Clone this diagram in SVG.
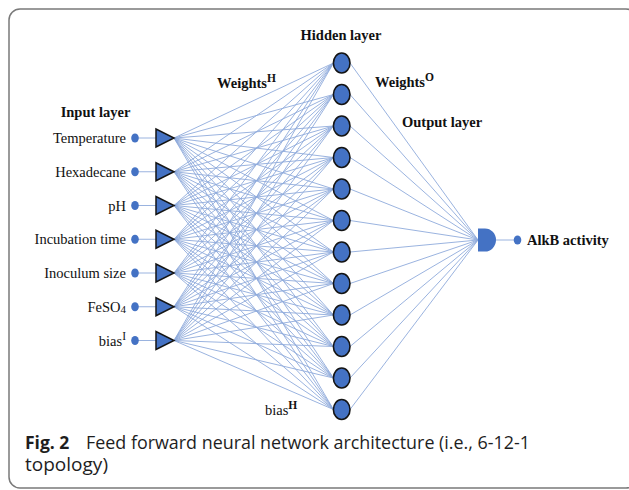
<svg xmlns="http://www.w3.org/2000/svg" width="629" height="490" viewBox="0 0 629 490">
<style>
.lbl{font-family:"Liberation Serif","Times New Roman",serif;font-size:14.5px;fill:#111}
.b{font-weight:bold}
.sup{font-size:11.5px}
.cn line{stroke:#8eaadb;stroke-width:0.9}
.hn{fill:#4472c4;stroke:#141414;stroke-width:1.6}
.tri{fill:#4472c4;stroke:#141414;stroke-width:1.5}
.dot{fill:#4472c4}
.stub{stroke:#4472c4;stroke-width:1.2}
.cap{font-family:"Open Sans","Noto Sans",sans-serif;font-size:17.5px;fill:#1e1e1e}
</style>
<rect x="9" y="9" width="628" height="479" rx="11" fill="#fff" stroke="#7a7a7a" stroke-width="1.5"/>

<g id="connectors" class="cn">
<g id="ih">
<line x1="174" y1="138" x2="333.5" y2="63"/><line x1="174" y1="138" x2="333.5" y2="94.5"/><line x1="174" y1="138" x2="333.5" y2="126"/><line x1="174" y1="138" x2="333.5" y2="157.5"/><line x1="174" y1="138" x2="333.5" y2="189"/><line x1="174" y1="138" x2="333.5" y2="220.5"/><line x1="174" y1="138" x2="333.5" y2="252"/><line x1="174" y1="138" x2="333.5" y2="283.5"/><line x1="174" y1="138" x2="333.5" y2="315"/><line x1="174" y1="138" x2="333.5" y2="346.5"/><line x1="174" y1="138" x2="333.5" y2="378"/><line x1="174" y1="138" x2="333.5" y2="409.5"/>
<line x1="174" y1="171.75" x2="333.5" y2="63"/><line x1="174" y1="171.75" x2="333.5" y2="94.5"/><line x1="174" y1="171.75" x2="333.5" y2="126"/><line x1="174" y1="171.75" x2="333.5" y2="157.5"/><line x1="174" y1="171.75" x2="333.5" y2="189"/><line x1="174" y1="171.75" x2="333.5" y2="220.5"/><line x1="174" y1="171.75" x2="333.5" y2="252"/><line x1="174" y1="171.75" x2="333.5" y2="283.5"/><line x1="174" y1="171.75" x2="333.5" y2="315"/><line x1="174" y1="171.75" x2="333.5" y2="346.5"/><line x1="174" y1="171.75" x2="333.5" y2="378"/><line x1="174" y1="171.75" x2="333.5" y2="409.5"/>
<line x1="174" y1="205.5" x2="333.5" y2="63"/><line x1="174" y1="205.5" x2="333.5" y2="94.5"/><line x1="174" y1="205.5" x2="333.5" y2="126"/><line x1="174" y1="205.5" x2="333.5" y2="157.5"/><line x1="174" y1="205.5" x2="333.5" y2="189"/><line x1="174" y1="205.5" x2="333.5" y2="220.5"/><line x1="174" y1="205.5" x2="333.5" y2="252"/><line x1="174" y1="205.5" x2="333.5" y2="283.5"/><line x1="174" y1="205.5" x2="333.5" y2="315"/><line x1="174" y1="205.5" x2="333.5" y2="346.5"/><line x1="174" y1="205.5" x2="333.5" y2="378"/><line x1="174" y1="205.5" x2="333.5" y2="409.5"/>
<line x1="174" y1="239.25" x2="333.5" y2="63"/><line x1="174" y1="239.25" x2="333.5" y2="94.5"/><line x1="174" y1="239.25" x2="333.5" y2="126"/><line x1="174" y1="239.25" x2="333.5" y2="157.5"/><line x1="174" y1="239.25" x2="333.5" y2="189"/><line x1="174" y1="239.25" x2="333.5" y2="220.5"/><line x1="174" y1="239.25" x2="333.5" y2="252"/><line x1="174" y1="239.25" x2="333.5" y2="283.5"/><line x1="174" y1="239.25" x2="333.5" y2="315"/><line x1="174" y1="239.25" x2="333.5" y2="346.5"/><line x1="174" y1="239.25" x2="333.5" y2="378"/><line x1="174" y1="239.25" x2="333.5" y2="409.5"/>
<line x1="174" y1="273" x2="333.5" y2="63"/><line x1="174" y1="273" x2="333.5" y2="94.5"/><line x1="174" y1="273" x2="333.5" y2="126"/><line x1="174" y1="273" x2="333.5" y2="157.5"/><line x1="174" y1="273" x2="333.5" y2="189"/><line x1="174" y1="273" x2="333.5" y2="220.5"/><line x1="174" y1="273" x2="333.5" y2="252"/><line x1="174" y1="273" x2="333.5" y2="283.5"/><line x1="174" y1="273" x2="333.5" y2="315"/><line x1="174" y1="273" x2="333.5" y2="346.5"/><line x1="174" y1="273" x2="333.5" y2="378"/><line x1="174" y1="273" x2="333.5" y2="409.5"/>
<line x1="174" y1="306.75" x2="333.5" y2="63"/><line x1="174" y1="306.75" x2="333.5" y2="94.5"/><line x1="174" y1="306.75" x2="333.5" y2="126"/><line x1="174" y1="306.75" x2="333.5" y2="157.5"/><line x1="174" y1="306.75" x2="333.5" y2="189"/><line x1="174" y1="306.75" x2="333.5" y2="220.5"/><line x1="174" y1="306.75" x2="333.5" y2="252"/><line x1="174" y1="306.75" x2="333.5" y2="283.5"/><line x1="174" y1="306.75" x2="333.5" y2="315"/><line x1="174" y1="306.75" x2="333.5" y2="346.5"/><line x1="174" y1="306.75" x2="333.5" y2="378"/><line x1="174" y1="306.75" x2="333.5" y2="409.5"/>
<line x1="174" y1="340.5" x2="333.5" y2="63"/><line x1="174" y1="340.5" x2="333.5" y2="94.5"/><line x1="174" y1="340.5" x2="333.5" y2="126"/><line x1="174" y1="340.5" x2="333.5" y2="157.5"/><line x1="174" y1="340.5" x2="333.5" y2="189"/><line x1="174" y1="340.5" x2="333.5" y2="220.5"/><line x1="174" y1="340.5" x2="333.5" y2="252"/><line x1="174" y1="340.5" x2="333.5" y2="283.5"/><line x1="174" y1="340.5" x2="333.5" y2="315"/><line x1="174" y1="340.5" x2="333.5" y2="346.5"/><line x1="174" y1="340.5" x2="333.5" y2="378"/><line x1="174" y1="340.5" x2="333.5" y2="409.5"/>
</g>
<g id="ho">
<line x1="350" y1="63" x2="478" y2="240"/><line x1="350" y1="94.5" x2="478" y2="240"/><line x1="350" y1="126" x2="478" y2="240"/><line x1="350" y1="157.5" x2="478" y2="240"/><line x1="350" y1="189" x2="478" y2="240"/><line x1="350" y1="220.5" x2="478" y2="240"/><line x1="350" y1="252" x2="478" y2="240"/><line x1="350" y1="283.5" x2="478" y2="240"/><line x1="350" y1="315" x2="478" y2="240"/><line x1="350" y1="346.5" x2="478" y2="240"/><line x1="350" y1="378" x2="478" y2="240"/><line x1="350" y1="409.5" x2="478" y2="240"/>
</g>
<g id="stubs">
<line class="stub" x1="138" y1="138" x2="156" y2="138"/>
<line class="stub" x1="138" y1="171.75" x2="156" y2="171.75"/>
<line class="stub" x1="138" y1="205.5" x2="156" y2="205.5"/>
<line class="stub" x1="138" y1="239.25" x2="156" y2="239.25"/>
<line class="stub" x1="138" y1="273" x2="156" y2="273"/>
<line class="stub" x1="138" y1="306.75" x2="156" y2="306.75"/>
<line class="stub" x1="138" y1="340.5" x2="156" y2="340.5"/>
<line class="stub" x1="496" y1="240" x2="514" y2="240"/>
</g>
</g>

<g id="input-nodes">
<g id="in-temperature"><text class="lbl" x="126" y="143" text-anchor="end">Temperature</text><ellipse class="dot" cx="135" cy="138" rx="3.8" ry="4.6"/><polygon class="tri" points="156,129 156,147 174,138"/></g>
<g id="in-hexadecane"><text class="lbl" x="126" y="176.75" text-anchor="end">Hexadecane</text><ellipse class="dot" cx="135" cy="171.75" rx="3.8" ry="4.6"/><polygon class="tri" points="156,162.75 156,180.75 174,171.75"/></g>
<g id="in-ph"><text class="lbl" x="126" y="210.5" text-anchor="end">pH</text><ellipse class="dot" cx="135" cy="205.5" rx="3.8" ry="4.6"/><polygon class="tri" points="156,196.5 156,214.5 174,205.5"/></g>
<g id="in-incubation"><text class="lbl" x="126" y="244.25" text-anchor="end">Incubation time</text><ellipse class="dot" cx="135" cy="239.25" rx="3.8" ry="4.6"/><polygon class="tri" points="156,230.25 156,248.25 174,239.25"/></g>
<g id="in-inoculum"><text class="lbl" x="126" y="278" text-anchor="end">Inoculum size</text><ellipse class="dot" cx="135" cy="273" rx="3.8" ry="4.6"/><polygon class="tri" points="156,264 156,282 174,273"/></g>
<g id="in-feso4"><text class="lbl" x="126" y="311.75" text-anchor="end">FeSO<tspan font-size="11" dy="1">4</tspan></text><ellipse class="dot" cx="135" cy="306.75" rx="3.8" ry="4.6"/><polygon class="tri" points="156,297.75 156,315.75 174,306.75"/></g>
<g id="in-bias"><text class="lbl" x="126" y="345.5" text-anchor="end">bias<tspan class="sup" dy="-6">I</tspan></text><ellipse class="dot" cx="135" cy="340.5" rx="3.8" ry="4.6"/><polygon class="tri" points="156,331.5 156,349.5 174,340.5"/></g>
</g>

<g id="hidden-nodes">
<ellipse id="h1" class="hn" cx="341.7" cy="63" rx="8.3" ry="10"/>
<ellipse id="h2" class="hn" cx="341.7" cy="94.5" rx="8.3" ry="10"/>
<ellipse id="h3" class="hn" cx="341.7" cy="126" rx="8.3" ry="10"/>
<ellipse id="h4" class="hn" cx="341.7" cy="157.5" rx="8.3" ry="10"/>
<ellipse id="h5" class="hn" cx="341.7" cy="189" rx="8.3" ry="10"/>
<ellipse id="h6" class="hn" cx="341.7" cy="220.5" rx="8.3" ry="10"/>
<ellipse id="h7" class="hn" cx="341.7" cy="252" rx="8.3" ry="10"/>
<ellipse id="h8" class="hn" cx="341.7" cy="283.5" rx="8.3" ry="10"/>
<ellipse id="h9" class="hn" cx="341.7" cy="315" rx="8.3" ry="10"/>
<ellipse id="h10" class="hn" cx="341.7" cy="346.5" rx="8.3" ry="10"/>
<ellipse id="h11" class="hn" cx="341.7" cy="378" rx="8.3" ry="10"/>
<ellipse id="h12" class="hn" cx="341.7" cy="409.5" rx="8.3" ry="10"/>
</g>

<g id="output-node">
<path class="dot" d="M478,228.5 H485 A11,11.5 0 0 1 485,251.5 H478 Z"/>
<ellipse class="dot" cx="517.5" cy="240" rx="3.8" ry="4.6"/>
<text class="lbl b" x="527" y="245">AlkB activity</text>
</g>

<g id="labels">
<text class="lbl b" x="95.5" y="117" text-anchor="middle">Input layer</text>
<text class="lbl b" x="341" y="40" text-anchor="middle">Hidden layer</text>
<text class="lbl b" x="217" y="88">Weights<tspan class="sup" dy="-6">H</tspan></text>
<text class="lbl b" x="375" y="87">Weights<tspan class="sup" dy="-6">O</tspan></text>
<text class="lbl b" x="402" y="127">Output layer</text>
<text class="lbl" x="265" y="415">bias<tspan class="sup b" dy="-6">H</tspan></text>
</g>

<g id="caption">
<text class="cap" x="25" y="449" font-weight="bold">Fig. 2</text>
<text class="cap" x="86" y="449" textLength="444" lengthAdjust="spacingAndGlyphs">Feed forward neural network architecture (i.e., 6-12-1</text>
<text class="cap" x="25" y="471" textLength="83" lengthAdjust="spacingAndGlyphs">topology)</text>
</g>
</svg>
